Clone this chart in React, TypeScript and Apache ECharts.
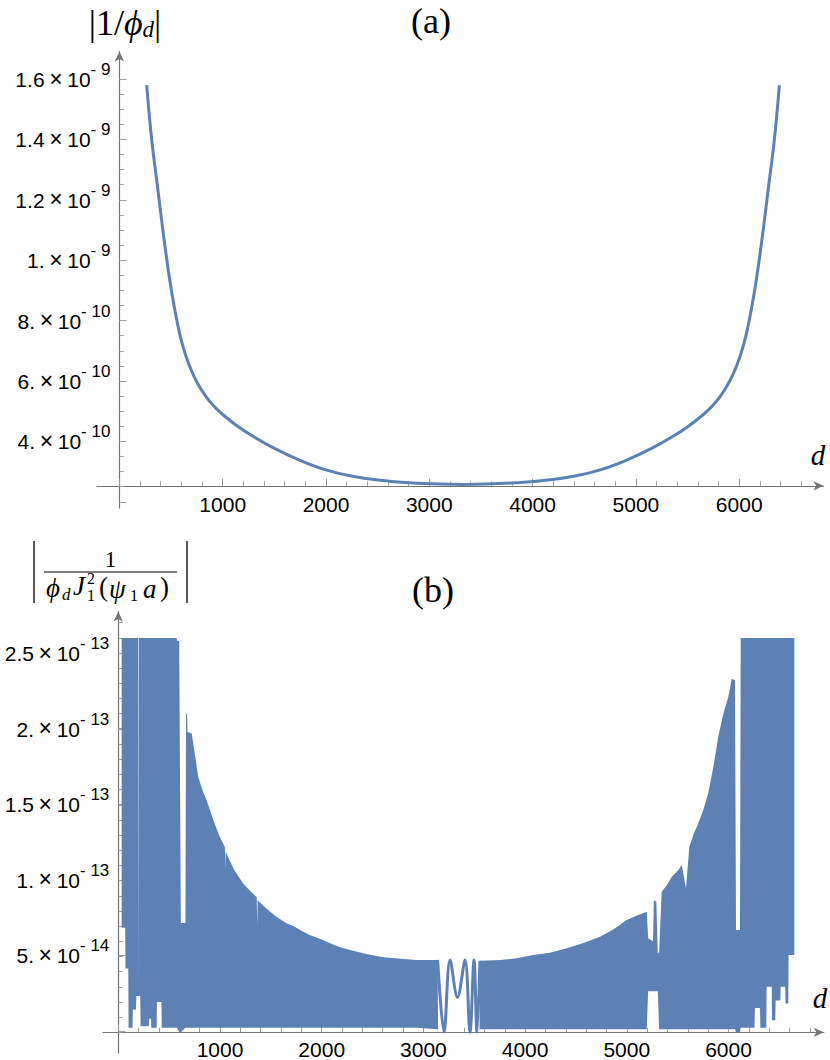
import React, { useEffect, useRef } from "react";
import * as echarts from "echarts";

// ---------------- Panel (a): |1/phi_d| against d ----------------
const dA = [
  264, 313, 361, 408, 458, 504, 555, 606, 674, 748,
  838, 916, 1000, 1138, 1293, 1506, 1748, 1990, 2232, 2523,
  2813, 3104, 3326, 3549, 3840, 4130, 4421, 4663, 4905, 5147,
  5360, 5515, 5653, 5737, 5815, 5905, 5979, 6047, 6098, 6149,
  6195, 6245, 6292, 6340, 6389,
];
const phiA = [
  1.580e-9, 1.398e-9, 1.2656e-9, 1.1351e-9, 1.004e-9, 8.99e-10, 8.027e-10, 7.255e-10, 6.537e-10, 5.977e-10,
  5.483e-10, 5.165e-10, 4.891e-10, 4.52e-10, 4.169e-10, 3.761e-10, 3.374e-10, 3.066e-10, 2.861e-10, 2.712e-10,
  2.632e-10, 2.586e-10, 2.573e-10, 2.586e-10, 2.632e-10, 2.712e-10, 2.861e-10, 3.066e-10, 3.374e-10, 3.761e-10,
  4.169e-10, 4.52e-10, 4.891e-10, 5.165e-10, 5.483e-10, 5.977e-10, 6.537e-10, 7.255e-10, 8.027e-10, 8.99e-10,
  1.004e-9, 1.1351e-9, 1.2656e-9, 1.398e-9, 1.580e-9,
];

// ---------------- Panel (b): oscillating quantity, drawn as its envelope band ----------------
// values in units of 1e-14
const UNIT_B = 1e-14;
const dB = [
  33, 68, 71, 98, 101, 140, 143, 174, 177, 195,
  198, 201, 216, 219, 300, 305, 320, 325, 377, 380,
  424, 427, 574, 577, 599, 615, 660, 666, 676, 681,
  722, 786, 830, 869, 934, 990, 1049, 1052, 1056, 1082,
  1140, 1229, 1300, 1361, 1366, 1370, 1450, 1557, 1650, 1721,
  1800, 1885, 1951, 2082, 2180, 2278, 2450, 2607, 2780, 2934,
  3140, 3144, 3552, 3556, 3753, 3918, 4078, 4245, 4409, 4580,
  4737, 4870, 4999, 5100, 5196, 5210, 5258, 5266, 5290, 5305,
  5318, 5343, 5393, 5442, 5507, 5540, 5582, 5615, 5654, 5703,
  5752, 5801, 5851, 5900, 5949, 5998, 6032, 6064, 6074, 6113,
  6120, 6255, 6260, 6310, 6313, 6372, 6375, 6425, 6428, 6460,
  6463, 6510, 6513, 6558, 6561, 6588, 6591, 6647,
];
const upperB = [
  26, 26, 26, 26, 26, 26, 26, 26, 26, 26,
  2.8, 26, 26, 26, 26, 26, 26, 26, 26, 26,
  26, 26, 26, 25.8, 25.8, 7.2, 7.2, 21, 21, 19.8,
  19.7, 16.85, 15.9, 15.3, 14, 13, 12.2, 10.8, 11.9, 11.5,
  10.7, 9.8, 9.3, 8.9, 7.0, 8.7, 8.2, 7.6, 7.2, 7.0,
  6.7, 6.4, 6.25, 5.87, 5.6, 5.43, 5.15, 4.94, 4.85, 4.77,
  4.77, 0, 0, 4.72, 4.77, 4.88, 5.1, 5.25, 5.54, 5.9,
  6.3, 6.8, 7.4, 7.7, 7.95, 6.2, 6.0, 8.7, 8.6, 5.2,
  5.3, 9.27, 9.7, 10.26, 10.7, 11.03, 9.49, 12.23, 13.0, 13.78,
  14.65, 15.75, 17.5, 19.5, 21.0, 22.1, 23.3, 23.2, 6.74, 6.74,
  26, 26, 26, 26, 26, 26, 26, 26, 26, 26,
  26, 26, 26, 26, 26, 26, 26, 26,
];
const lowerB = [
  6.9, 6.9, 4.2, 4.2, 0.3, 0.3, 1.5, 1.5, 2.4, 2.4,
  2.4, 2.4, 2.4, 0.4, 0.4, 0.9, 0.9, 0.3, 0.3, 2.0,
  2.0, 0.3, 0.3, 0.3, 0, 0, 0.3, 0.3, 0.3, 0.3,
  0.3, 0.3, 0.3, 0.3, 0.3, 0.3, 0.3, 0.3, 0.3, 0.3,
  0.3, 0.3, 0.3, 0.3, 0.3, 0.3, 0.3, 0.3, 0.3, 0.3,
  0.3, 0.3, 0.3, 0.3, 0.3, 0.3, 0.3, 0.3, 0.3, 0.3,
  0.2, 0, 0, 0.2, 0.2, 0.2, 0.2, 0.2, 0.2, 0.2,
  0.2, 0.2, 0.2, 0.2, 0.2, 2.7, 2.7, 2.7, 2.7, 2.7,
  0.2, 0.2, 0.2, 0.2, 0.2, 0.2, 0.2, 0.2, 0.2, 0.2,
  0.2, 0.2, 0.2, 0.2, 0.2, 0.2, 0.2, 0.2, 0, 0,
  0.3, 0.3, 1.6, 1.6, 0.3, 0.3, 3.0, 3.0, 0.8, 0.8,
  2.1, 2.1, 3.0, 3.0, 1.9, 1.9, 5.1, 5.1,
];
// the resolved oscillation around the middle of panel (b)
const dCenterB = [3140, 3203, 3262, 3335, 3409, 3458, 3498, 3527, 3556];
const centerB = [4.77, 0, 4.77, 2.3, 4.77, 0, 4.77, 0, 4.72];

// ---------------- tick labels ----------------
const xTickLabels = [1000, 2000, 3000, 4000, 5000, 6000];
const yTicksA = [4e-10, 6e-10, 8e-10, 1e-9, 1.2e-9, 1.4e-9, 1.6e-9];
const yMantA = ["4.", "6.", "8.", "1.", "1.2", "1.4", "1.6"];
const yExpA = ["10", "10", "10", "9", "9", "9", "9"];
const yTicksB = [5e-14, 1e-13, 1.5e-13, 2e-13, 2.5e-13];
const yMantB = ["5.", "1.", "1.5", "2.", "2.5"];
const yExpB = ["14", "13", "13", "13", "13"];

// ---------------- styling / layout ----------------
const BLUE = "#5E81B5";
const AXIS_GRAY = "#767676";
const TICK_GRAY = "#9c9c9c";
const SANS = "'Liberation Sans', Arial, Helvetica, sans-serif";
const SERIF = "'Liberation Serif', 'DejaVu Serif', 'Times New Roman', serif";
const LABEL_SIZE = 21;
const SUP_SIZE = 17;

// panel (a) pixel mapping
const A_X0 = 119.4;
const A_PX_PER_D = 0.1033;
const A_Y_TOP = 79; // 1.6e-9
const A_Y_BOT = 501.8; // 2e-10
const A_AXIS_Y = 485.8;
// panel (b) pixel mapping
const B_X0 = 118.3;
const B_PX_PER_D = 0.1017;
const B_Y0 = 1032.3;
const B_PX_PER_V = 15.17 / 1e-14;

const yFormatter = (ticks: number[], mants: string[], exps: string[]) => (v: number) => {
  for (let i = 0; i < ticks.length; i++) {
    if (Math.abs(v - ticks[i]) < ticks[i] * 1e-6) return `{m|${mants[i]}}{x|\u2009×\u2009}{m|10}{e|- ${exps[i]}}`;
  }
  return "";
};
const xFormatter = (v: number) => (xTickLabels.indexOf(Math.round(v)) >= 0 ? String(Math.round(v)) : "");

const yRich = {
  m: { fontSize: LABEL_SIZE, fontFamily: SANS, color: "#000", lineHeight: 22, verticalAlign: "bottom" },
  x: { fontSize: 23, fontFamily: SANS, color: "#000", lineHeight: 22, verticalAlign: "bottom" },
  e: { fontSize: SUP_SIZE, fontFamily: SANS, color: "#000", lineHeight: 18, padding: [0, 0, 12, 0], verticalAlign: "bottom" },
};

const majorTick = { show: true, inside: true, length: 7, lineStyle: { color: TICK_GRAY, width: 1 } };
const minorTick = { show: true, inside: true, length: 4.5, lineStyle: { color: TICK_GRAY, width: 1 } };
const noLine = { show: false, onZero: false };
const frameLine = {
  show: true,
  onZero: false,
  symbol: ["none", "arrow"],
  symbolSize: [7, 10],
  lineStyle: { color: AXIS_GRAY, width: 1.2 },
};

function buildOption() {
  const aH = A_Y_BOT - A_Y_TOP;
  const bMajH = 2.5e-13 * B_PX_PER_V;
  const bMinH = 2.7e-13 * B_PX_PER_V;
  const grid = [
    { left: A_X0, top: A_Y_TOP, width: 6000 * A_PX_PER_D, height: aH },
    { left: A_X0, top: A_Y_TOP, width: 6600 * A_PX_PER_D, height: aH },
    { left: 97, top: 51.5, width: 726.5, height: 456.5 },
    { left: B_X0, top: B_Y0 - bMajH, width: 6000 * B_PX_PER_D, height: bMajH },
    { left: B_X0, top: B_Y0 - bMinH, width: 6800 * B_PX_PER_D, height: bMinH },
    { left: 103, top: 611.5, width: 720.8, height: 441.5 },
  ];
  const xLabel = { show: true, formatter: xFormatter, color: "#000", fontSize: LABEL_SIZE, fontFamily: SANS, margin: 8 };
  const off = { show: false };
  const xAxis = [
    { type: "value", gridIndex: 0, min: 0, max: 6000, interval: 1000, offset: -(A_Y_BOT - A_AXIS_Y), axisLine: noLine, axisTick: majorTick, axisLabel: xLabel, splitLine: off },
    { type: "value", gridIndex: 1, min: 0, max: 6600, interval: 200, offset: -(A_Y_BOT - A_AXIS_Y), axisLine: noLine, axisTick: minorTick, axisLabel: off, splitLine: off },
    { type: "value", gridIndex: 2, min: 0, max: 1, offset: -(508 - A_AXIS_Y), axisLine: frameLine, axisTick: off, axisLabel: off, splitLine: off },
    { type: "value", gridIndex: 3, min: 0, max: 6000, interval: 1000, axisLine: noLine, axisTick: majorTick, axisLabel: xLabel, splitLine: off },
    { type: "value", gridIndex: 4, min: 0, max: 6800, interval: 200, axisLine: noLine, axisTick: minorTick, axisLabel: off, splitLine: off },
    { type: "value", gridIndex: 5, min: 0, max: 1, offset: -(1053 - B_Y0), axisLine: frameLine, axisTick: off, axisLabel: off, splitLine: off },
  ];
  const yAxis = [
    { type: "value", gridIndex: 0, min: 2e-10, max: 1.6e-9, interval: 2e-10, axisLine: noLine, axisTick: majorTick, axisLabel: { show: true, margin: 9, formatter: yFormatter(yTicksA, yMantA, yExpA), rich: yRich }, splitLine: off },
    { type: "value", gridIndex: 1, min: 2e-10, max: 1.6e-9, interval: 5e-11, axisLine: noLine, axisTick: minorTick, axisLabel: off, splitLine: off },
    { type: "value", gridIndex: 2, min: 0, max: 1, offset: -(A_X0 - 97), axisLine: frameLine, axisTick: off, axisLabel: off, splitLine: off },
    { type: "value", gridIndex: 3, min: 0, max: 2.5e-13, interval: 5e-14, axisLine: noLine, axisTick: majorTick, axisLabel: { show: true, margin: 9, formatter: yFormatter(yTicksB, yMantB, yExpB), rich: yRich }, splitLine: off },
    { type: "value", gridIndex: 4, min: 0, max: 2.7e-13, interval: 1e-14, axisLine: noLine, axisTick: minorTick, axisLabel: off, splitLine: off },
    { type: "value", gridIndex: 5, min: 0, max: 1, offset: -(B_X0 - 103), axisLine: frameLine, axisTick: off, axisLabel: off, splitLine: off },
  ];

  const series = [
    {
      type: "line",
      xAxisIndex: 1,
      yAxisIndex: 1,
      data: dA.map((d, i) => [d, phiA[i]]),
      smooth: 0.4,
      symbol: "none",
      lineStyle: { color: BLUE, width: 3 },
      silent: true,
    },
    {
      // envelope band: upper edge forward, lower edge back, mapped through the axes
      type: "custom",
      coordinateSystem: "cartesian2d",
      xAxisIndex: 4,
      yAxisIndex: 4,
      data: [[dB[0], lowerB[0] * UNIT_B]],
      silent: true,
      renderItem: (_params: any, api: any) => {
        const pts: number[][] = [];
        for (let i = 0; i < dB.length; i++) pts.push(api.coord([dB[i], upperB[i] * UNIT_B]));
        for (let i = dB.length - 1; i >= 0; i--) pts.push(api.coord([dB[i], lowerB[i] * UNIT_B]));
        return { type: "polygon", shape: { points: pts }, style: { fill: BLUE } };
      },
    },
    {
      type: "line",
      xAxisIndex: 4,
      yAxisIndex: 4,
      data: dCenterB.map((d, i) => [d, centerB[i] * UNIT_B]),
      smooth: 0.35,
      symbol: "none",
      lineStyle: { color: BLUE, width: 3 },
      silent: true,
    },
  ];

  const t = (text: string, x: number, y: number, size: number, italic = false, align = "left") => ({
    type: "text",
    x,
    y,
    silent: true,
    style: {
      text,
      fontSize: size,
      fontFamily: SERIF,
      fontStyle: italic ? "italic" : "normal",
      fill: "#000",
      align,
      verticalAlign: "middle",
    },
  });

  const graphic = [
    t("(a)", 431, 21, 36, false, "center"),
    t("(b)", 433, 590, 36, false, "center"),
    t("d", 818, 455, 29, true, "center"),
    t("d", 820, 998, 29, true, "center"),
    {
      type: "text",
      x: 125,
      y: 22,
      silent: true,
      style: {
        text: "{r||1/}{i|\u03D5}{s|d}{r||}",
        align: "center",
        verticalAlign: "middle",
        rich: {
          r: { fontSize: 36, fontFamily: SERIF, fill: "#000", lineHeight: 38, verticalAlign: "bottom" },
          i: { fontSize: 36, fontFamily: SERIF, fontStyle: "italic", fill: "#000", lineHeight: 38, verticalAlign: "bottom" },
          s: { fontSize: 23, fontFamily: SERIF, fontStyle: "italic", fill: "#000", lineHeight: 27, verticalAlign: "bottom" },
        },
      },
    },
    // |  1 / (phi_d J_1^2(psi_1 a))  |
    { type: "line", silent: true, shape: { x1: 34, y1: 541, x2: 34, y2: 603 }, style: { stroke: "#000", lineWidth: 1.3 } },
    { type: "line", silent: true, shape: { x1: 187, y1: 541, x2: 187, y2: 603 }, style: { stroke: "#000", lineWidth: 1.3 } },
    { type: "line", silent: true, shape: { x1: 44, y1: 572, x2: 177, y2: 572 }, style: { stroke: "#000", lineWidth: 1 } },
    t("1", 110.5, 559, 23, false, "center"),
    t("\u03D5", 46, 588, 27, true),
    t("d", 62, 594, 17, true),
    t("J", 73, 586, 27, true),
    t("2", 87, 578, 16),
    t("1", 87, 595, 16),
    t("(", 99, 587, 27),
    t("\u03C8", 109, 589, 27, true),
    t("1", 130, 595, 16),
    t("a", 143, 589, 27, true),
    t(")", 160, 587, 27),
  ];

  return { animation: false, grid, xAxis, yAxis, series, graphic };
}

export default function App() {
  const ref = useRef<HTMLDivElement>(null);
  useEffect(() => {
    if (!ref.current) return;
    const chart = echarts.init(ref.current, undefined, { renderer: "svg" });
    chart.setOption(buildOption() as any);
    return () => {
      chart.dispose();
    };
  }, []);
  return (
    <div
      ref={ref}
      style={{ position: "absolute", left: 0, top: 0, width: 830, height: 1060, background: "#fff" }}
    />
  );
}
